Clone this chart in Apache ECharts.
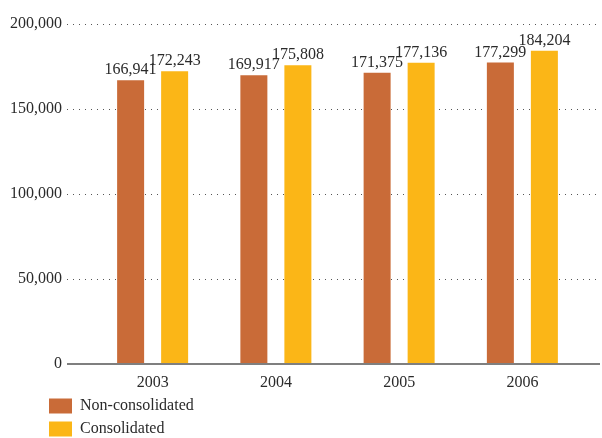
<!DOCTYPE html>
<html>
<head>
<meta charset="utf-8">
<script src="https://cdn.jsdelivr.net/npm/echarts@6/dist/echarts.min.js"></script>
<style>
  html, body { margin: 0; padding: 0; background: #fff; }
  #chart { width: 602px; height: 438px; }
</style>
</head>
<body>
<div id="chart"></div>
<script>
// Years shown along the bottom
const years = ['2003', '2004', '2005', '2006'];
// Headcount values per year
const nonConsolidated = [166941, 169917, 171375, 177299];
const consolidated = [172243, 175808, 177136, 184204];
// Value axis ticks
const yTicks = [0, 50000, 100000, 150000, 200000];

const seriesNames = ['Non-consolidated', 'Consolidated'];
const colors = ['#C96B38', '#FBB617'];
const font = 'Liberation Serif, Times New Roman, serif';
const textColor = '#2a2a2a';
const fontSize = 16;

const fmt = v => v.toLocaleString('en-US');

const chart = echarts.init(document.getElementById('chart'), null, { renderer: 'canvas' });

// one legend per row so the two entries stack
const legendRow = (name, top) => ({
  left: 49,
  top: top,
  padding: 0,
  itemWidth: 23,
  itemHeight: 15,
  icon: 'rect',
  textStyle: { fontFamily: font, fontSize: fontSize, color: textColor, padding: [0, 0, 0, 3] },
  data: [name]
});

const barLabel = {
  show: true, position: 'top', distance: 2,
  fontFamily: font, fontSize: fontSize, color: textColor,
  formatter: p => fmt(p.value)
};

chart.setOption({
  animation: false,
  backgroundColor: '#fff',
  grid: [
    // frame grid: value ticks, dotted rules, baseline
    { left: 67, right: 2, top: 24, bottom: 74 },
    // bar grid
    { left: 91, width: 493, top: 24, bottom: 74 }
  ],
  legend: [legendRow(seriesNames[0], 398), legendRow(seriesNames[1], 421)],
  xAxis: [
    {
      gridIndex: 0,
      type: 'value',
      min: 0, max: 1,
      axisLine: { show: false },
      axisTick: { show: false },
      axisLabel: { show: false },
      splitLine: { show: false }
    },
    {
      gridIndex: 1,
      type: 'category',
      data: years,
      axisLine: { show: false },
      axisTick: { show: false },
      axisLabel: { fontFamily: font, fontSize: fontSize, color: textColor, margin: 11 }
    }
  ],
  yAxis: [
    {
      gridIndex: 0,
      type: 'value',
      min: yTicks[0],
      max: yTicks[yTicks.length - 1],
      interval: yTicks[1] - yTicks[0],
      axisLine: { show: false },
      axisTick: { show: false },
      axisLabel: { fontFamily: font, fontSize: fontSize, color: textColor, margin: 5, formatter: fmt },
      splitLine: { show: true, lineStyle: { color: '#555', width: 1, type: [1, 5] } }
    },
    {
      gridIndex: 1,
      type: 'value',
      min: yTicks[0],
      max: yTicks[yTicks.length - 1],
      show: false,
      splitLine: { show: false }
    }
  ],
  series: [
    {
      name: seriesNames[0],
      type: 'bar',
      xAxisIndex: 1, yAxisIndex: 1,
      data: nonConsolidated,
      itemStyle: { color: colors[0] },
      barWidth: 27,
      barGap: '63%',
      label: barLabel
    },
    {
      name: seriesNames[1],
      type: 'bar',
      xAxisIndex: 1, yAxisIndex: 1,
      data: consolidated,
      itemStyle: { color: colors[1] },
      barWidth: 27,
      barGap: '63%',
      label: barLabel
    },
    {
      // baseline along the bottom of the frame grid
      type: 'line',
      xAxisIndex: 0, yAxisIndex: 0,
      data: [[0, 0], [1, 0]],
      symbol: 'none',
      z: 10,
      silent: true,
      color: '#7f7f7f',
      lineStyle: { color: '#7f7f7f', width: 2 }
    }
  ]
});
</script>
</body>
</html>
